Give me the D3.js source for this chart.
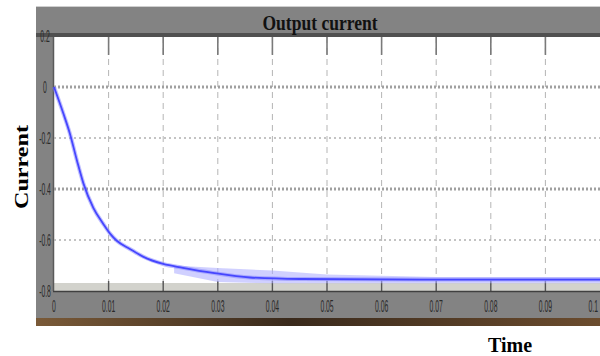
<!DOCTYPE html>
<html>
<head>
<meta charset="utf-8">
<script src="https://cdn.jsdelivr.net/npm/d3@7"></script>
<style>
  body { margin: 0; background: #fff; }
  svg { display: block; }
</style>
</head>
<body>
<svg id="chart" width="600" height="356"></svg>
<script>
// values
const timeVals = [0, 0.0017, 0.0029, 0.0042, 0.0054, 0.0072, 0.009, 0.0103, 0.0115, 0.0139,
  0.0163, 0.02, 0.0236, 0.0291, 0.0359, 0.0451, 0.067, 0.1];
const currentVals = [0, -0.103, -0.182, -0.288, -0.379, -0.474, -0.536, -0.576, -0.603, -0.635,
  -0.665, -0.694, -0.709, -0.729, -0.747, -0.753, -0.755, -0.755];
// light noise band around the settled value
const bandT = [0.022, 0.03, 0.04, 0.05, 0.07, 0.1];
const bandHi = [-0.70, -0.71, -0.72, -0.735, -0.745, -0.745];
const bandLo = [-0.73, -0.765, -0.77, -0.77, -0.77, -0.77];
const xTicks = [0, 0.01, 0.02, 0.03, 0.04, 0.05, 0.06, 0.07, 0.08, 0.09, 0.1];
const xTickLabels = ["0", "0.01", "0.02", "0.03", "0.04", "0.05", "0.06", "0.07", "0.08", "0.09", "0.1"];
const yTicks = [0.2, 0, -0.2, -0.4, -0.6, -0.8];
const yTickLabels = ["0.2", "0", "-0.2", "-0.4", "-0.6", "-0.8"];

const svg = d3.select("#chart");
const plotL = 54, plotR = 600, plotT = 37, plotB = 291;

const x = d3.scaleLinear().domain([0, 0.1]).range([plotL, plotR]);
const y = d3.scaleLinear().domain([-0.8, 0.2]).range([plotB, 36]);

// scope frame
svg.append("rect").attr("x", 36).attr("y", 6).attr("width", 564).attr("height", 320).attr("fill", "#838383");
svg.append("line").attr("x1", 36).attr("x2", 600).attr("y1", 6.5).attr("y2", 6.5).attr("stroke", "#cfcfcf");
svg.append("rect").attr("x", 36).attr("y", 33).attr("width", 564).attr("height", 4).attr("fill", "#505050");

// brown strip under the frame
const grad = svg.append("defs").append("linearGradient").attr("id", "brown");
grad.append("stop").attr("offset", "0%").attr("stop-color", "#7a5a38");
grad.append("stop").attr("offset", "45%").attr("stop-color", "#3a2a1c");
grad.append("stop").attr("offset", "100%").attr("stop-color", "#6b4c2e");
svg.append("rect").attr("x", 36).attr("y", 318).attr("width", 564).attr("height", 8).attr("fill", "url(#brown)");

// plot area
svg.append("rect").attr("x", plotL).attr("y", plotT).attr("width", plotR - plotL).attr("height", plotB - plotT).attr("fill", "#fff");
svg.append("rect").attr("x", plotL).attr("y", 283).attr("width", plotR - plotL).attr("height", plotB - 283).attr("fill", "#d2d2cc");
svg.append("line").attr("x1", plotL - 0.5).attr("x2", plotL - 0.5).attr("y1", plotT).attr("y2", plotB).attr("stroke", "#5a5a5a").attr("stroke-width", 1.5);

const grid = svg.append("g");
// vertical grid
grid.selectAll(".vg").data(xTicks.slice(1, 10)).enter().append("line")
  .attr("x1", d => x(d)).attr("x2", d => x(d))
  .attr("y1", plotT).attr("y2", plotB)
  .attr("stroke", "#b5b5b5").attr("stroke-dasharray", "6,5");
grid.selectAll(".vt").data(xTicks.slice(1, 10)).enter().append("line")
  .attr("x1", d => x(d)).attr("x2", d => x(d))
  .attr("y1", plotT).attr("y2", plotT + 18)
  .attr("stroke", "#7a7a7a").attr("stroke-width", 1.6);
grid.selectAll(".vb").data(xTicks.slice(1, 10)).enter().append("line")
  .attr("x1", d => x(d)).attr("x2", d => x(d))
  .attr("y1", plotB - 10).attr("y2", plotB)
  .attr("stroke", "#555").attr("stroke-width", 1.4);
// horizontal grid
grid.selectAll(".hg").data(yTicks.slice(1, 5)).enter().append("line")
  .attr("x1", plotL).attr("x2", plotR)
  .attr("y1", d => y(d)).attr("y2", d => y(d))
  .attr("stroke", (d, i) => i % 2 === 0 ? "#a0a0a0" : "#b0b0b0")
  .attr("stroke-width", (d, i) => i % 2 === 0 ? 3 : 1.5)
  .attr("stroke-dasharray", (d, i) => i % 2 === 0 ? "2,2" : "2,3");

// signal
const band = d3.area()
  .x((d, i) => x(bandT[i]))
  .y0((d, i) => y(bandLo[i]))
  .y1((d, i) => y(bandHi[i]));
svg.append("path").datum(bandT).attr("d", band).attr("fill", "#aaaaff").attr("opacity", 0.55);

const line = d3.line()
  .x((d, i) => x(timeVals[i]))
  .y(d => y(d))
  .curve(d3.curveMonotoneX);
svg.append("path").datum(currentVals).attr("d", line)
  .attr("fill", "none").attr("stroke", "#8080ff").attr("stroke-width", 4).attr("opacity", 0.5);
svg.append("path").datum(currentVals).attr("d", line)
  .attr("fill", "none").attr("stroke", "#4646ff").attr("stroke-width", 1.8);

// bottom axis line
svg.append("line").attr("x1", plotL - 1).attr("x2", plotR).attr("y1", plotB + 0.5).attr("y2", plotB + 0.5)
  .attr("stroke", "#404040").attr("stroke-width", 1.5);

// tick labels (squeezed, like the scope)
svg.selectAll(".xl").data(xTicks).enter().append("text")
  .attr("transform", d => `translate(${Math.min(x(d), 598)},312) scale(0.4,1)`)
  .attr("text-anchor", (d, i) => i === xTicks.length - 1 ? "end" : "middle")
  .attr("font-family", "Liberation Sans, Arial, sans-serif")
  .attr("font-size", 17).attr("fill", "#2a2a2a")
  .text((d, i) => xTickLabels[i]);
svg.selectAll(".yl").data(yTicks).enter().append("text")
  .attr("transform", d => `translate(45,${y(d) + 6}) scale(0.4,1)`)
  .attr("text-anchor", "middle")
  .attr("font-family", "Liberation Sans, Arial, sans-serif")
  .attr("font-size", 17).attr("fill", "#2a2a2a")
  .text((d, i) => yTickLabels[i]);

// titles
svg.append("text").attr("x", 320).attr("y", 30)
  .attr("text-anchor", "middle")
  .attr("font-family", "Liberation Serif, Times New Roman, serif")
  .attr("font-size", 21).attr("font-weight", "bold").attr("fill", "#111")
  .attr("textLength", 115).attr("lengthAdjust", "spacingAndGlyphs")
  .text("Output current");
svg.append("text")
  .attr("transform", "translate(28,167) rotate(-90)")
  .attr("text-anchor", "middle")
  .attr("font-family", "Liberation Serif, Times New Roman, serif")
  .attr("font-size", 19).attr("font-weight", "bold").attr("fill", "#000")
  .attr("textLength", 84).attr("lengthAdjust", "spacingAndGlyphs")
  .text("Current");
svg.append("text").attr("x", 510).attr("y", 352)
  .attr("text-anchor", "middle")
  .attr("font-family", "Liberation Serif, Times New Roman, serif")
  .attr("font-size", 20).attr("font-weight", "bold").attr("fill", "#000")
  .text("Time");
</script>
</body>
</html>
